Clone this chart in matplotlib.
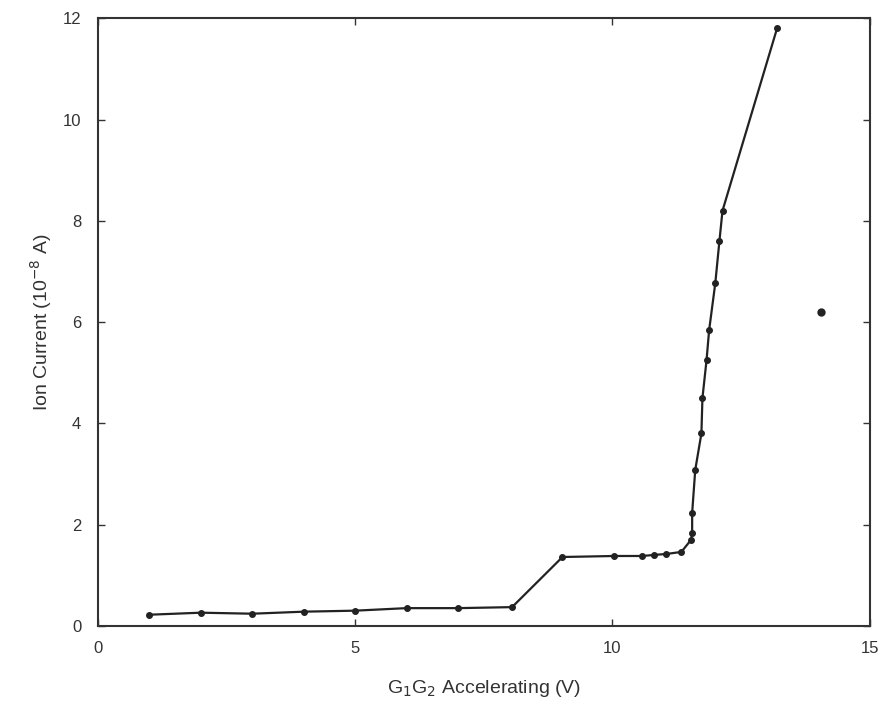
import matplotlib.pyplot as plt

# Ion current vs accelerating voltage
voltage = [1.0, 2.0, 3.0, 4.0, 5.0, 6.0, 7.0, 8.05, 9.03, 10.04, 10.58, 10.8,
           11.05, 11.34, 11.53, 11.55, 11.55, 11.61, 11.73, 11.75, 11.83, 11.88,
           12.0, 12.08, 12.14, 13.2]
current = [0.22, 0.26, 0.24, 0.28, 0.30, 0.35, 0.35, 0.37, 1.36, 1.38, 1.38, 1.40,
           1.42, 1.46, 1.70, 1.83, 2.23, 3.08, 3.80, 4.50, 5.25, 5.84,
           6.77, 7.60, 8.20, 11.80]

# stray point on its own
stray_v = [14.06]
stray_i = [6.2]

plt.rcParams['font.family'] = ['Liberation Sans', 'DejaVu Sans']

fig = plt.figure(figsize=(8.82, 7.04), dpi=100)
ax = fig.add_axes([0.111, 0.111, 0.875, 0.863])

ax.plot(voltage, current, '-o', color='#222222', lw=1.6, ms=4)
ax.plot(stray_v, stray_i, 'o', color='#222222', ms=5)

ax.set_xlim(0, 15)
ax.set_ylim(0, 12)
ax.set_xticks([0, 5, 10, 15])
ax.set_yticks([0, 2, 4, 6, 8, 10, 12])
ax.tick_params(direction='in', top=True, right=True, length=5, width=1,
               labelsize=12, colors='#333333')
ax.tick_params(axis='x', pad=11)
ax.tick_params(axis='y', pad=12)
for s in ax.spines.values():
    s.set_linewidth(1.5)
    s.set_color('#333333')

ax.set_xlabel('G$_1$G$_2$ Accelerating (V)', fontsize=14, color='#333333', labelpad=16)
ax.set_ylabel('Ion Current (10$^{-8}$ A)', fontsize=14, color='#333333', labelpad=6)

plt.savefig('out.png', dpi=100)
